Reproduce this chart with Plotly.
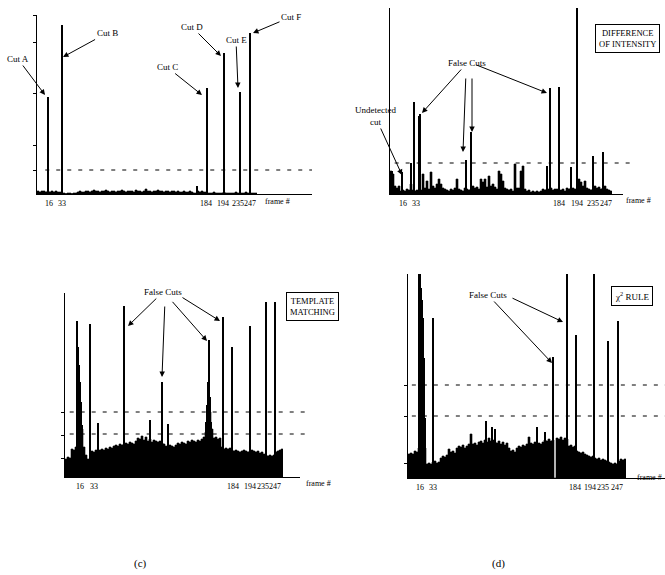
import plotly.graph_objects as go

FIG_W, FIG_H = 665, 575
SERIF = "Liberation Serif, Times New Roman, serif"

frame_labels = ["16", "33", "184", "194", "235", "247"]

# ---------------- Panel (a): reference cut profile ----------------
spike_pos_a = [11, 25, 160, 170, 187, 203, 213]
spike_val_a = [97, 169, 8, 106, 141, 102, 161]
noise_a = [3, 2, 3, 3, 2, 3,
           2, 3, 2, 3, 2, 2,
           1, 1, 0.5, 1, 1, 0.5, 1, 1,
           2, 3, 2, 2, 3, 3, 2, 3, 4, 3,
           3, 2, 3, 3, 4, 3, 2, 3, 3, 2,
           3, 3, 4, 3, 2, 3, 3, 3, 2, 4,
           3, 3, 2, 3, 5, 3, 3, 2, 3, 3,
           4, 3, 3, 2, 3, 3, 2, 3, 3, 2,
           3, 2, 2, 3, 2, 2, 3, 2, 1, 1,
           3, 2, 3, 2, 2,
           1, 1, 1, 2, 1, 1, 1, 1, 2, 1,
           1, 1, 1, 1, 2, 1, 1, 1, 1, 2,
           1, 1, 1, 1, 1]
frame_pos_a = [12, 25, 169, 186, 201, 213]
thresh_a = [24]

# ---------------- Panel (b): difference of intensity ----------------
spike_pos_b = [2, 12, 21, 24, 29, 30, 76, 81, 157, 160, 169, 181, 187, 203, 213]
spike_val_b = [23, 22, 31, 92, 78, 80, 34, 62, 28, 106, 107, 27, 186, 38, 42]
noise_b = [23, 20, 8, 6, 8, 3, 4, 3, 5, 4,
           10, 4, 3, 4, 3, 4, 20, 6, 13, 5,
           22, 8, 6, 10, 15, 10, 6, 5, 4, 3,
           5, 4, 6, 15, 5, 4, 3, 6, 5, 4,
           5, 8, 6, 7, 5, 15, 12, 15, 7, 18,
           8, 10, 7, 5, 23, 20, 13, 6, 5, 4,
           5, 3, 30, 6, 6, 23, 28, 5, 3, 4,
           2, 3, 2, 3, 2, 3, 5, 4, 5, 5,
           6, 4, 5, 5, 4, 4, 5, 3, 6, 5,
           6, 6, 5, 5, 15, 12, 8, 13, 6, 5,
           4, 5, 8, 6, 7, 5, 6, 8, 5, 4,
           3]
frame_pos_b = [13, 26, 169, 187, 203, 216]
thresh_b = [31]

# ---------------- Panel (c): template matching ----------------
spike_pos_c = [12, 13, 14, 15, 16, 17, 25, 33, 59, 85, 97, 103,
               141, 142, 143, 144, 145, 146, 158, 167, 185, 201, 210]
spike_val_c = [156, 130, 112, 95, 75, 52, 153, 54, 171, 57, 95, 53,
               55, 72, 95, 137, 80, 55, 160, 130, 151, 175, 175]
noise_c = [18, 20, 19, 28, 27, 30, 45, 60, 48, 30,
           22, 18, 16, 26, 25, 27, 26, 27, 28, 27,
           29, 28, 30, 29, 31, 32, 31, 33, 32, 33,
           34, 33, 35, 34, 33, 36, 39, 38, 41, 37,
           40, 36, 38, 35, 37, 36, 35, 36, 34, 33,
           31, 30, 32, 31, 30, 32, 34, 33, 35, 34,
           33, 36, 35, 37, 36, 35, 37, 36, 38, 40,
           45, 60, 65, 48, 39, 40, 38, 39, 30, 28,
           29, 28, 29, 27, 26, 27, 26, 25, 26, 27,
           26, 25, 26, 27, 26, 25, 26, 24, 25, 23,
           22, 21, 22, 21, 22, 25, 26, 27, 28]
frame_pos_c = [15, 29, 168, 185, 198, 210]
thresh_c = [65, 43]

# ---------------- Panel (d): chi-square rule ----------------
spike_pos_d = [11, 12, 13, 14, 15, 16, 17, 25, 78, 84, 87, 129, 137,
               145, 159, 168, 186, 200, 210]
spike_val_d = [204, 204, 190, 178, 160, 120, 60, 160, 57, 51, 49, 51, 46,
               121, 204, 143, 204, 137, 157]
noise_d = [24, 25, 24, 27, 26, 30, 35, 40, 30, 14,
           15, 14, 16, 17, 15, 16, 20, 22, 21, 23,
           29, 26, 27, 25, 30, 32, 31, 33, 30, 32,
           34, 44, 34, 35, 33, 36, 37, 35, 38, 36,
           40, 37, 38, 36, 35, 37, 34, 36, 33, 35,
           30, 27, 28, 26, 30, 32, 31, 33, 32, 34,
           41, 35, 34, 36, 33, 35, 34, 36, 38, 37,
           39, 37, 38, 0, 40, 39, 41, 38, 40, 39,
           32, 33, 31, 32, 27, 26, 25, 26, 24, 23,
           22, 21, 22, 20, 19, 20, 18, 19, 18, 17,
           16, 15, 14, 15, 14, 17, 19, 18, 19]
frame_pos_d = [12, 25, 167, 182, 195, 209]
thresh_d = [93, 62]

# panel geometry in page pixels: (left, right, top, bottom)
panels = [
    dict(n="", box=(37, 312, 15, 194), W=275, H=179, spos=spike_pos_a, sval=spike_val_a,
         noise=noise_a, fpos=frame_pos_a, thr=thresh_a, ytk=[24, 49, 101, 152, 179],
         dash=(0.03, 1.0)),
    dict(n="2", box=(390, 623, 8, 194), W=233, H=186, spos=spike_pos_b, sval=spike_val_b,
         noise=noise_b, fpos=frame_pos_b, thr=thresh_b, ytk=[],
         dash=(0.02, 1.045)),
    dict(n="3", box=(65, 300, 293, 477), W=235, H=184, spos=spike_pos_c, sval=spike_val_c,
         noise=noise_c, fpos=frame_pos_c, thr=thresh_c, ytk=[19, 42, 65],
         dash=(0.02, 1.03)),
    dict(n="4", box=(408, 665, 274, 478), W=257, H=204, spos=spike_pos_d, sval=spike_val_d,
         noise=noise_d, fpos=frame_pos_d, thr=thresh_d, ytk=[15, 62, 93],
         dash=(0.015, 1.0)),
]

fig = go.Figure()
layout = dict(width=FIG_W, height=FIG_H, margin=dict(l=0, r=0, t=0, b=0),
              paper_bgcolor="white", plot_bgcolor="white", showlegend=False,
              font=dict(family=SERIF, color="black", size=9))
shapes = []

for p in panels:
    n = p["n"]
    xa, ya = "x" + n, "y" + n
    l, r, t, b = p["box"]
    nx = list(range(0, 2 * len(p["noise"]), 2))
    fig.add_trace(go.Scatter(
        x=nx + [nx[-1] + 2], y=p["noise"] + [p["noise"][-1]],
        mode="lines", line=dict(shape="hv", color="black", width=0.6),
        fill="tozeroy", fillcolor="black", xaxis=xa, yaxis=ya, hoverinfo="skip"))
    fig.add_trace(go.Bar(
        x=p["spos"], y=p["sval"], width=1.4, marker=dict(color="black", line=dict(width=0)),
        xaxis=xa, yaxis=ya))
    for tv in p["thr"]:
        shapes.append(dict(type="line", xref=xa + " domain", yref=ya,
                           x0=p["dash"][0], x1=p["dash"][1], y0=tv, y1=tv,
                           line=dict(color="black", width=1, dash="4px,7px")))
    layout["xaxis" + n] = dict(
        domain=[l / FIG_W, r / FIG_W], range=[0, p["W"]], anchor=ya,
        showgrid=False, zeroline=False, showline=True, linecolor="black", linewidth=1.3,
        tickmode="array", tickvals=p["fpos"], ticktext=frame_labels, ticks="",
        tickangle=0, ticklabelstandoff=1,
        tickfont=dict(family=SERIF, size=8, color="black"), fixedrange=True)
    layout["yaxis" + n] = dict(
        domain=[1 - b / FIG_H, 1 - t / FIG_H], range=[0, p["H"]], anchor=xa,
        showgrid=False, zeroline=False, showline=True, linecolor="black", linewidth=1.3,
        tickmode="array", tickvals=p["ytk"], ticks="outside", ticklen=3, tickwidth=1,
        tickcolor="black", showticklabels=False, fixedrange=True)

fig.update_layout(**layout, bargap=0)
fig.update_layout(shapes=shapes)

ann = []
TXT = dict(family=SERIF, size=9, color="#000000")


def arrow(xa, ya, tx, ty, ax, ay, text=" "):
    ann.append(dict(xref=xa, yref=ya, x=tx, y=ty, ax=ax, ay=ay, text=text,
                    showarrow=True, arrowhead=2, arrowsize=1.1, arrowwidth=1,
                    arrowcolor="black", font=TXT))


# panel (a) cut labels
arrow("x", "y", 8, 99, -27, -36, "Cut A")
arrow("x", "y", 26, 137, 44, -24, "Cut B")
arrow("x", "y", 165, 99, -35, -28, "Cut C")
arrow("x", "y", 184, 138, -29, -29, "Cut D")
arrow("x", "y", 201, 106, -2, -48, "Cut E")
arrow("x", "y", 216, 161, 38, -16, "Cut F")

# panel (b)
arrow("x2", "y2", 32, 81, 45, -50, "False Cuts")
arrow("x2", "y2", 73, 42, 3, -80)
arrow("x2", "y2", 82, 62, 0, -60)
arrow("x2", "y2", 157, 101, -73, -29)
arrow("x2", "y2", 12, 19, -27, -59, "Undetected<br>cut")

# panel (c)
arrow("x3", "y3", 63, 151, 35, -34, "False Cuts")
arrow("x3", "y3", 97, 100, 3, -77)
arrow("x3", "y3", 142, 136, -37, -42)
arrow("x3", "y3", 155, 156, -40, -25)

# panel (d)
arrow("x4", "y4", 144, 115, -64, -68, "False Cuts")
arrow("x4", "y4", 155, 156, -53, -25)


def ptext(px, py, text, size=8, box=False, **kw):
    d = dict(xref="paper", yref="paper", x=px / FIG_W, y=1 - py / FIG_H, text=text,
             showarrow=False, xanchor="center", yanchor="middle",
             font=dict(family=SERIF, size=size, color="#000000"))
    if box:
        d.update(bordercolor="black", borderwidth=1, borderpad=3, bgcolor="white")
    d.update(kw)
    ann.append(d)


ptext(277, 201, "frame #")
ptext(638, 200, "frame #")
ptext(318, 483, "frame #")
ptext(664, 477, "frame #", xanchor="right")

ptext(627, 39, "DIFFERENCE<br>OF INTENSITY", size=8.5, box=True)
ptext(312, 306, "TEMPLATE<br>MATCHING", size=8.5, box=True)
ptext(632, 296, "χ<sup>2</sup> RULE", size=9, box=True)

ptext(140, 563, "(c)", size=11)
ptext(498, 563, "(d)", size=11)

fig.update_layout(annotations=ann)
fig.write_html("out.html",
               config={"displayModeBar": False},
               post_script="document.body.style.margin='0';"
                           "document.body.style.overflow='hidden';")
